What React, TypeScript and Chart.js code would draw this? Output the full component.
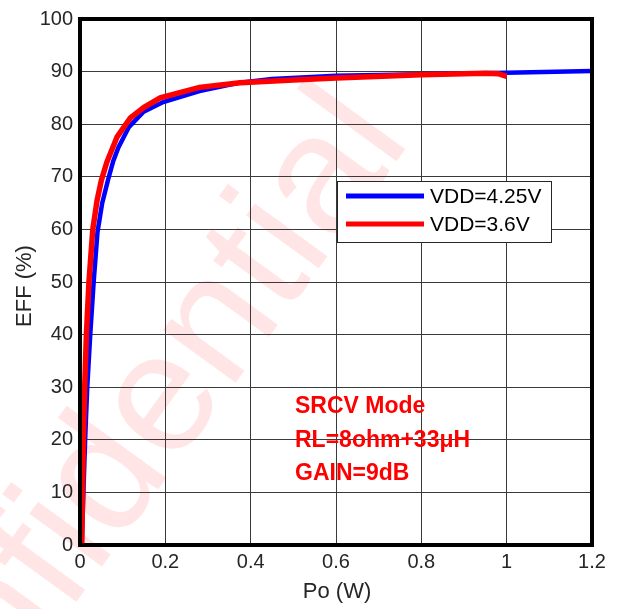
import React, { useEffect, useRef } from "react";
import { Chart, registerables } from "chart.js";

Chart.register(...registerables);

// Output power (W) and efficiency (%) for each supply voltage
const vdd425Po = [0.004, 0.008, 0.012, 0.017, 0.024, 0.032, 0.041, 0.052, 0.066, 0.078, 0.09, 0.115, 0.148, 0.195, 0.28, 0.375, 0.45, 0.6, 0.8, 1.0, 1.2];
const vdd425Eff = [0, 10, 20, 30, 40, 50, 59.5, 65, 69.5, 73, 75.6, 79.5, 82.3, 84.2, 86.3, 87.9, 88.6, 89.2, 89.5, 89.8, 90.1];

const vdd36Po = [0.004, 0.006, 0.008, 0.011, 0.015, 0.021, 0.03, 0.04, 0.05, 0.063, 0.087, 0.118, 0.15, 0.188, 0.28, 0.375, 0.5, 0.6, 0.8, 0.95, 0.98, 1.0];
const vdd36Eff = [0, 10, 20, 30, 40, 50, 60, 65.5, 69.3, 72.8, 77.6, 81.2, 83.2, 85, 87, 87.9, 88.4, 88.8, 89.4, 89.7, 89.6, 89.1];

const seriesLabels = ["VDD=4.25V", "VDD=3.6V"];
const seriesColors = ["#0000ff", "#ff0000"];

const xTickLabels = ["0", "0.2", "0.4", "0.6", "0.8", "1", "1.2"];
const yTickLabels = ["0", "10", "20", "30", "40", "50", "60", "70", "80", "90", "100"];

const xTitle = "Po (W)";
const yTitle = "EFF (%)";
const noteLines = ["SRCV Mode", "RL=8ohm+33\u03bcH", "GAIN=9dB"];
const watermark = "Confidential";

const FONT = "'Liberation Sans', Arial, sans-serif";

const toPoints = (xs: number[], ys: number[]) => xs.map((x, i) => ({ x, y: ys[i] }));

const decorations = {
  id: "decorations",
  beforeDraw(chart: any) {
    const ctx = chart.ctx;
    ctx.save();
    ctx.fillStyle = "#ffffff";
    ctx.fillRect(0, 0, chart.width, chart.height);
    // diagonal watermark behind the grid
    ctx.translate(412, 140);
    ctx.rotate((-54 * Math.PI) / 180);
    ctx.font = `170px ${FONT}`;
    ctx.fillStyle = "rgba(255, 0, 0, 0.1)";
    ctx.textAlign = "right";
    ctx.textBaseline = "alphabetic";
    ctx.fillText(watermark, 0, 0);
    ctx.restore();
  },
  afterDraw(chart: any) {
    const ctx = chart.ctx;
    const a = chart.chartArea;
    ctx.save();
    // frame
    ctx.strokeStyle = "#000000";
    ctx.lineWidth = 4;
    ctx.lineJoin = "miter";
    ctx.strokeRect(a.left, a.top, a.right - a.left, a.bottom - a.top);

    // axis titles
    ctx.fillStyle = "#262626";
    ctx.font = `22px ${FONT}`;
    ctx.textAlign = "center";
    ctx.textBaseline = "middle";
    ctx.fillText(xTitle, 337, 592);
    ctx.save();
    ctx.translate(25, 286);
    ctx.rotate(-Math.PI / 2);
    ctx.fillText(yTitle, 0, 0);
    ctx.restore();

    // legend
    const lx = 337, ly = 181, lw = 214, lh = 61;
    ctx.fillStyle = "#ffffff";
    ctx.fillRect(lx, ly, lw, lh);
    ctx.strokeStyle = "#262626";
    ctx.lineWidth = 1;
    ctx.strokeRect(lx + 0.5, ly + 0.5, lw, lh);
    chart.data.datasets.forEach((ds: any, i: number) => {
      const yy = 196 + i * 28;
      ctx.strokeStyle = ds.borderColor;
      ctx.lineWidth = 5;
      ctx.lineCap = "butt";
      ctx.beginPath();
      ctx.moveTo(346, yy);
      ctx.lineTo(424, yy);
      ctx.stroke();
      ctx.fillStyle = "#000000";
      ctx.font = `21px ${FONT}`;
      ctx.textAlign = "left";
      ctx.textBaseline = "middle";
      ctx.fillText(ds.label, 430, yy + 1);
    });

    // test conditions
    ctx.fillStyle = "#ff0000";
    ctx.font = `bold 23px ${FONT}`;
    ctx.textAlign = "left";
    ctx.textBaseline = "alphabetic";
    noteLines.forEach((t, i) => ctx.fillText(t, 295, 413 + i * 33.5));
    ctx.restore();
  },
};

export default function App() {
  const ref = useRef<HTMLCanvasElement | null>(null);

  useEffect(() => {
    document.body.style.margin = "0";
    if (!ref.current) return;
    const chart = new Chart(ref.current, {
      type: "line",
      data: {
        datasets: [
          {
            label: seriesLabels[0],
            data: toPoints(vdd425Po, vdd425Eff),
            borderColor: seriesColors[0],
            borderWidth: 4.5,
            pointRadius: 0,
            tension: 0,
            order: 1,
          },
          {
            label: seriesLabels[1],
            data: toPoints(vdd36Po, vdd36Eff),
            borderColor: seriesColors[1],
            borderWidth: 5.5,
            pointRadius: 0,
            tension: 0,
            order: 0,
          },
        ],
      },
      options: {
        animation: false,
        responsive: false,
        maintainAspectRatio: false,
        layout: { padding: { left: 0, right: 27, top: 12, bottom: 0 } },
        plugins: { legend: { display: false }, tooltip: { enabled: false } },
        scales: {
          x: {
            type: "linear",
            min: 0,
            max: 1.2,
            afterFit: (s: any) => {
              s.height = 64;
            },
            afterBuildTicks: (s: any) => {
              s.ticks = xTickLabels.map((t) => ({ value: parseFloat(t) }));
            },
            ticks: {
              color: "#262626",
              font: { family: FONT, size: 20 },
              padding: 5,
              maxRotation: 0,
              callback: (_v: any, i: number) => xTickLabels[i],
            },
            grid: { color: "#3a3a3a", lineWidth: 1, drawTicks: false },
            border: { display: false },
          },
          y: {
            type: "linear",
            min: 0,
            max: 100,
            afterFit: (s: any) => {
              s.width = 80;
            },
            afterBuildTicks: (s: any) => {
              s.ticks = yTickLabels.map((t) => ({ value: parseFloat(t) }));
            },
            ticks: {
              color: "#262626",
              font: { family: FONT, size: 20 },
              padding: 7,
              callback: (_v: any, i: number) => yTickLabels[i],
            },
            grid: { color: "#3a3a3a", lineWidth: 1, drawTicks: false },
            border: { display: false },
          },
        },
      },
      plugins: [decorations],
    });
    return () => chart.destroy();
  }, []);

  return <canvas ref={ref} width={619} height={609} style={{ display: "block" }} />;
}
